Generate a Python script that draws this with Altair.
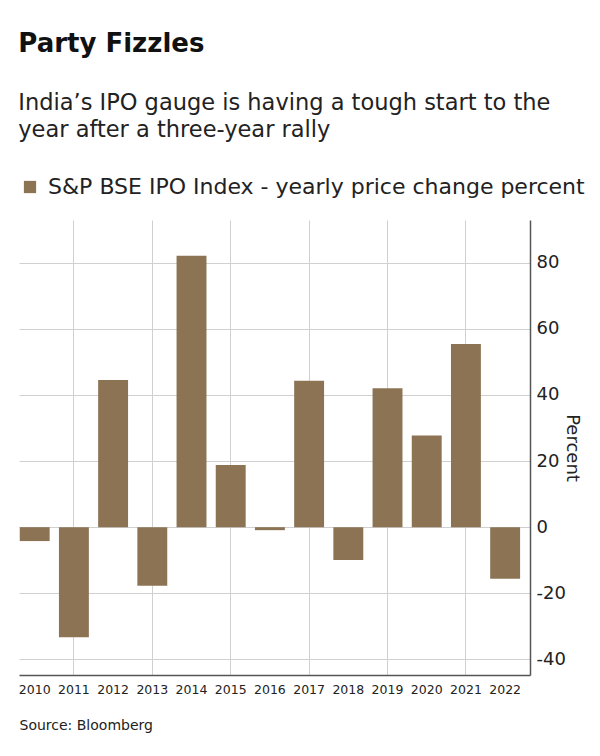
import altair as alt
import pandas as pd

years = ["2010", "2011", "2012", "2013", "2014", "2015", "2016",
         "2017", "2018", "2019", "2020", "2021", "2022"]
changes = [-4.2, -33.3, 44.5, -17.7, 82.1, 18.8, -0.9,
           44.3, -9.9, 42.0, 27.7, 55.4, -15.6]
grid_years = ["2011", "2013", "2015", "2017", "2019", "2021"]
y_ticks = [-40, -20, 0, 20, 40, 60, 80]
series_name = "S&P BSE IPO Index - yearly price change percent"

df = pd.DataFrame({"year": years, "change": changes, "series": series_name})

FONT = "DejaVu Sans"
BAR = "#8B7354"
GRID = "#d0d0d0"
W, H = 511, 455

grid_test = "indexof(" + str(grid_years) + ", datum.value) >= 0"

x_scale = alt.Scale(domain=years, paddingInner=0.237, paddingOuter=0.136, align=0.07)
y_scale = alt.Scale(domain=[-44.7, 92.9], nice=False, zero=False)

bars = alt.Chart(df).mark_bar().encode(
    x=alt.X("year:N", scale=x_scale, title="Source: Bloomberg",
            axis=alt.Axis(labelAngle=0, ticks=False, grid=True, domain=True,
                          gridColor=GRID, gridWidth=1,
                          gridOpacity={"condition": {"test": grid_test, "value": 1},
                                       "value": 0},
                          domainColor="#555", domainWidth=1.5,
                          labelFont=FONT, labelFontSize=12.5, labelColor="#222",
                          labelPadding=8,
                          titleFont=FONT, titleFontSize=14, titleFontWeight="normal",
                          titleColor="#222", titleAnchor="start", titleAlign="left",
                          titleX=0, titlePadding=23)),
    y=alt.Y("change:Q", scale=y_scale, title="Percent",
            axis=alt.Axis(orient="right", values=y_ticks, ticks=False, grid=True,
                          gridColor=GRID, gridWidth=1,
                          domain=True, domainColor="#555", domainWidth=1.5,
                          labelExpr="'' + datum.value",
                          labelFont=FONT, labelFontSize=18, labelColor="#222",
                          labelPadding=6,
                          titleFont=FONT, titleFontSize=18, titleFontWeight="normal",
                          titleColor="#222", titleX=32, titleY=H / 2)),
    color=alt.Color("series:N", scale=alt.Scale(range=[BAR]),
                    legend=alt.Legend(orient="none", legendX=0, legendY=-44,
                                      padding=0, title=None, symbolType="square",
                                      symbolSize=150, symbolStrokeWidth=0,
                                      symbolOffset=0, labelOffset=7,
                                      labelFont=FONT, labelFontSize=22,
                                      labelColor="#222", labelLimit=700)),
)

chart = bars.properties(
    width=W, height=H,
    padding={"left": 10, "top": 22, "right": 0, "bottom": 5},
    title=alt.TitleParams(
        text="Party Fizzles",
        subtitle=["India\u2019s IPO gauge is having a tough start to the",
                  "year after a three-year rally"],
        anchor="start", font=FONT, fontSize=26, fontWeight="bold", color="#111",
        subtitleFont=FONT, subtitleFontSize=22.5, subtitleColor="#222",
        subtitleLineHeight=27, subtitlePadding=35, offset=35,
    ),
).configure_view(stroke=None)

chart.save("out.html", embed_options={"renderer": "svg", "actions": False})
